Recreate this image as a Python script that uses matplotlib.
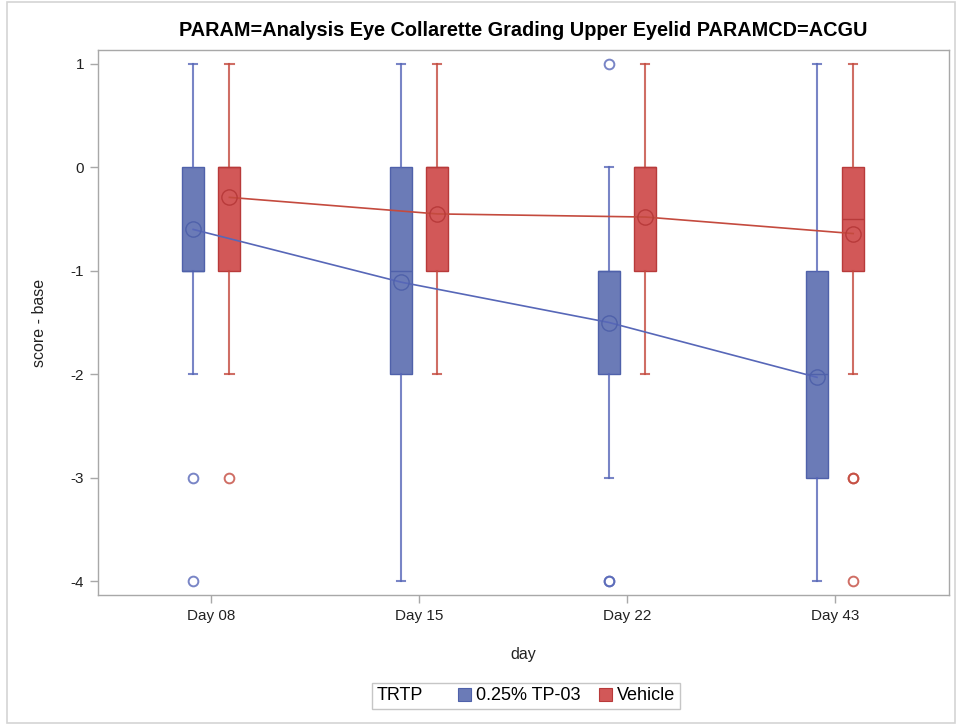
import matplotlib
matplotlib.use("Agg")
import matplotlib.pyplot as plt
from matplotlib import font_manager
from matplotlib.offsetbox import HPacker
from matplotlib.patches import Patch, Rectangle

# ---- data -------------------------------------------------------------
days = ["Day 08", "Day 15", "Day 22", "Day 43"]
groups = ["0.25% TP-03", "Vehicle"]

tp_q1 = [-1, -2, -2, -3]
tp_med = [-1, -1, -1, -2]
tp_q3 = [0, 0, -1, -1]
tp_lo = [-2, -4, -3, -4]
tp_hi = [1, 1, 0, 1]
tp_mean = [-0.60, -1.11, -1.50, -2.03]
tp_out = [[-3, -4], [], [1, -4, -4], []]

veh_q1 = [-1, -1, -1, -1]
veh_med = [0, 0, 0, -0.5]
veh_q3 = [0, 0, 0, 0]
veh_lo = [-2, -2, -2, -2]
veh_hi = [1, 1, 1, 1]
veh_mean = [-0.29, -0.45, -0.48, -0.64]
veh_out = [[-3], [], [], [-3, -3, -4]]

yticks = [1, 0, -1, -2, -3, -4]

# ---- fonts ------------------------------------------------------------
names = {f.name for f in font_manager.fontManager.ttflist}
base_font = "Liberation Sans" if "Liberation Sans" in names else "DejaVu Sans"
title_font = "Liberation Sans Narrow" if "Liberation Sans Narrow" in names else base_font
plt.rcParams["font.family"] = [base_font, "DejaVu Sans"]

# ---- styling ----------------------------------------------------------
blue_fill, blue_edge, blue_line = "#6B7BB7", "#4F61AA", "#5767B8"
red_fill, red_edge, red_line = "#D25858", "#B83A3A", "#C44A3E"
spine_col = "#A8A8A8"

W, H = 956, 725
fig = plt.figure(figsize=(W / 100, H / 100), dpi=100)
fig.patches.append(Rectangle((7 / W, 2 / H), (W - 8) / W, (H - 4) / H,
                             transform=fig.transFigure, fill=False,
                             edgecolor="#D4D4D4", linewidth=1.2))

ax = fig.add_axes([98 / W, 130 / H, (949 - 98) / W, (595 - 50) / H])

offset = 0.087
bw = 0.106


def stats(q1, med, q3, lo, hi, out):
    return [dict(q1=a, med=m, q3=b, whislo=l, whishi=h, fliers=f)
            for a, m, b, l, h, f in zip(q1, med, q3, lo, hi, out)]


def draw_group(st, pos, fill, edge, line, means):
    ax.bxp(st, positions=pos, widths=bw, capwidths=0.04, patch_artist=True,
           showfliers=True,
           boxprops=dict(facecolor=fill, edgecolor=edge, linewidth=1.0),
           whiskerprops=dict(color=line, linewidth=1.5, alpha=0.8),
           capprops=dict(color=line, linewidth=1.5, alpha=0.8),
           medianprops=dict(color=edge, linewidth=1.0),
           flierprops=dict(marker="o", markersize=7, markerfacecolor="none",
                           markeredgecolor=line, markeredgewidth=1.4, alpha=0.8,
                           linestyle="none"))
    ax.plot(pos, means, color=line, linewidth=1.2, marker="o", markersize=11,
            markerfacecolor="none", markeredgecolor=edge, markeredgewidth=1.0,
            zorder=5)


x = list(range(len(days)))
tp_pos = [i - offset for i in x]
veh_pos = [i + offset for i in x]

draw_group(stats(tp_q1, tp_med, tp_q3, tp_lo, tp_hi, tp_out), tp_pos,
           blue_fill, blue_edge, blue_line, tp_mean)
draw_group(stats(veh_q1, veh_med, veh_q3, veh_lo, veh_hi, veh_out), veh_pos,
           red_fill, red_edge, red_line, veh_mean)

ax.set_xlim(-0.545, 3.548)
ax.set_ylim(-4.135, 1.135)
ax.set_xticks(x)
ax.set_xticklabels(days)
ax.set_yticks(yticks)
ax.set_yticklabels([str(v) for v in yticks])
ax.tick_params(axis="both", direction="out", length=6, width=1,
               color=spine_col, labelsize=11, labelcolor="#222222", pad=4)
for s in ax.spines.values():
    s.set_color(spine_col)
    s.set_linewidth(1.0)

ax.set_xlabel("day", fontsize=11.5, color="#222222", labelpad=17)
ax.set_ylabel("score - base", fontsize=11.5, color="#222222", labelpad=17)
ax.set_title("PARAM=Analysis Eye Collarette Grading Upper Eyelid PARAMCD=ACGU",
             fontsize=14.3, fontweight="bold", family=[title_font, "DejaVu Sans"],
             pad=10)

# legend: caption "TRTP" sits on the same row as the entries
handles = [Patch(facecolor=blue_fill, edgecolor=blue_edge, linewidth=0.8),
           Patch(facecolor=red_fill, edgecolor=red_edge, linewidth=0.8)]
leg = fig.legend(handles, groups, loc="center", bbox_to_anchor=(526 / W, 29 / H),
                 ncol=2, title="TRTP", title_fontsize=13, frameon=True,
                 fancybox=False, fontsize=13,
                 handlelength=0.72, handleheight=0.72, handletextpad=0.3,
                 columnspacing=1.0, borderpad=0.25, borderaxespad=0)
box = leg._legend_box
row = HPacker(pad=box.pad, sep=25, align="center", children=box.get_children())
row.axes = box.axes
row.set_figure(fig)
row.set_offset(leg._findoffset)
leg._legend_box = row
leg.get_frame().set_edgecolor("#B8B8B8")
leg.get_frame().set_linewidth(1.0)

fig.savefig("out.png", dpi=100)
